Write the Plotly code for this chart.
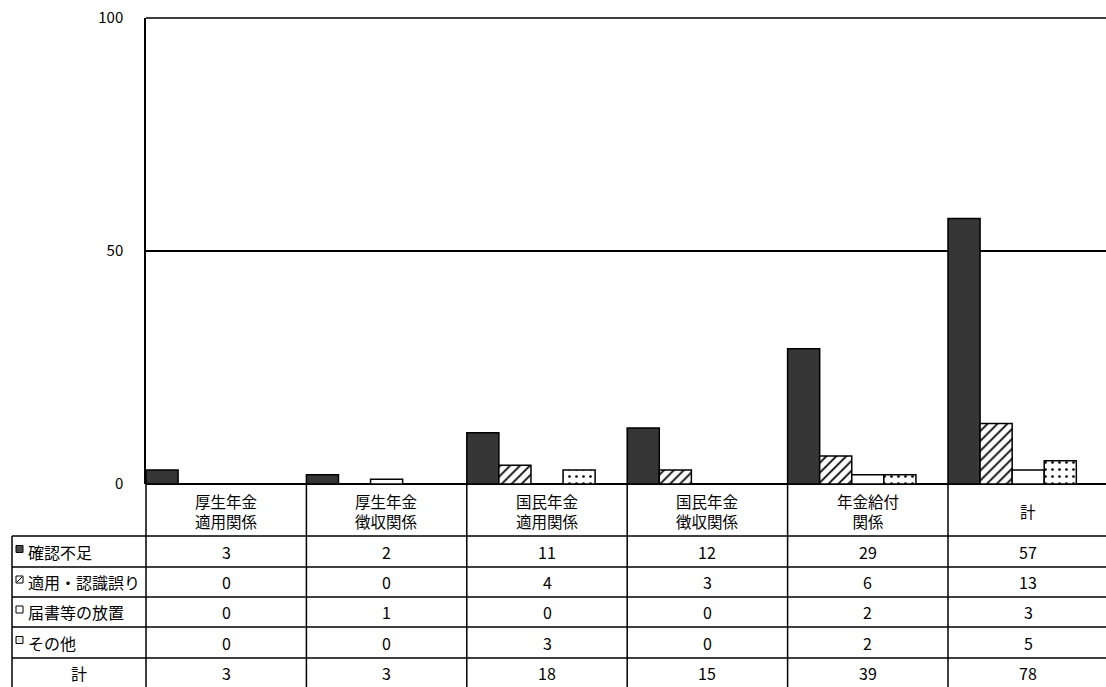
import plotly.graph_objects as go

# ---- data ----
categories = ["厚生年金<br>適用関係", "厚生年金<br>徴収関係", "国民年金<br>適用関係",
              "国民年金<br>徴収関係", "年金給付<br>関係", "計"]
series_names = ["確認不足", "適用・認識誤り", "届書等の放置", "その他"]
kakunin_fusoku = [3, 2, 11, 12, 29, 57]
tekiyo_ninshiki = [0, 0, 4, 3, 6, 13]
todokesho_hochi = [0, 1, 0, 0, 2, 3]
sonota = [0, 0, 3, 0, 2, 5]
total_row_label = "計"
totals = [3, 3, 18, 15, 39, 78]
y_ticks = [0, 50, 100]

series_values = [kakunin_fusoku, tekiyo_ninshiki, todokesho_hochi, sonota]

FONT = "Noto Sans CJK JP"
W, H = 1106, 687
L, T, B = 146, 18, 203
PW, PH = W - L, H - T - B
CAT_PX = 160.4


def pxx(p):
    return (p - L) / PW


def pxy(p):
    return (H - B - p) / PH


styles = [
    dict(color="#363636", pattern=None),
    dict(color="white", pattern=dict(shape="/", fgcolor="black", bgcolor="white", size=7,
                                     solidity=0.25, fgopacity=1)),
    dict(color="white", pattern=None),
    dict(color="white", pattern=dict(shape=".", fgcolor="black", bgcolor="white", size=7,
                                     solidity=0.12, fgopacity=1)),
]

fig = go.Figure()
xs = list(range(len(categories)))
for name, vals, st in zip(series_names, series_values, styles):
    marker = dict(color=st["color"], line=dict(color="black", width=1.5))
    if st["pattern"]:
        marker["pattern"] = st["pattern"]
    fig.add_trace(go.Bar(x=xs, y=vals, name=name, marker=marker, hoverinfo="skip"))

x0 = -0.4
x1 = x0 + PW / CAT_PX

shapes = []
annotations = []

# table geometry (pixels)
header_bottom = 536
row_lines = [567, 597, 627, 658, 688]
row_tops = [header_bottom] + row_lines[:-1]
row_centers = [(a + b) / 2 for a, b in zip(row_tops, row_lines)]
table_left = 12

# horizontal table lines
for yp in [header_bottom] + row_lines:
    shapes.append(dict(type="line", xref="paper", yref="paper", x0=pxx(table_left), x1=1.01,
                       y0=pxy(yp), y1=pxy(yp), line=dict(color="black", width=1.3)))
# left border of table
shapes.append(dict(type="line", xref="paper", yref="paper", x0=pxx(table_left), x1=pxx(table_left),
                   y0=pxy(header_bottom), y1=pxy(H + 2), line=dict(color="black", width=1.5)))
# axis line continuation
shapes.append(dict(type="line", xref="paper", yref="paper", x0=0, x1=0,
                   y0=0, y1=pxy(H + 2), line=dict(color="black", width=1.5)))
# category boundaries
for i in range(1, len(categories)):
    shapes.append(dict(type="line", xref="x", yref="paper", x0=i + x0, x1=i + x0,
                       y0=0, y1=pxy(H + 2), line=dict(color="black", width=1.5)))

# header labels
for i, c in enumerate(categories):
    annotations.append(dict(x=i + 0.1, xref="x", y=pxy((H - B + header_bottom) / 2 + 1), yref="paper",
                            text=c, showarrow=False, font=dict(family=FONT, size=15.5, color="black"),
                            xanchor="center", yanchor="middle", align="center"))

# row labels + icons
icon_fill = ["#4a4a4a", "white", "white", "#e8e8e8"]
for r, (name, vals) in enumerate(zip(series_names, series_values)):
    yc = row_centers[r]
    annotations.append(dict(x=pxx(26), xref="paper", y=pxy(yc), yref="paper", text=name,
                            showarrow=False, xanchor="left", yanchor="middle",
                            font=dict(family=FONT, size=16, color="black")))
    shapes.append(dict(type="rect", xref="paper", yref="paper", x0=pxx(16), x1=pxx(23),
                       y0=pxy(yc + 1), y1=pxy(yc - 6), fillcolor=icon_fill[r],
                       line=dict(color="black", width=1)))
    if r == 1:
        shapes.append(dict(type="line", xref="paper", yref="paper", x0=pxx(17), x1=pxx(22),
                           y0=pxy(yc), y1=pxy(yc - 5), line=dict(color="black", width=1)))
    for i, v in enumerate(vals):
        annotations.append(dict(x=i + 0.1, xref="x", y=pxy(yc), yref="paper", text=str(v),
                                showarrow=False, xanchor="center", yanchor="middle",
                                font=dict(family=FONT, size=16, color="black")))

# total row
yc = row_centers[4]
annotations.append(dict(x=pxx(79), xref="paper", y=pxy(yc), yref="paper", text=total_row_label,
                        showarrow=False, xanchor="center", yanchor="middle",
                        font=dict(family=FONT, size=16, color="black")))
for i, v in enumerate(totals):
    annotations.append(dict(x=i + 0.1, xref="x", y=pxy(yc), yref="paper", text=str(v),
                            showarrow=False, xanchor="center", yanchor="middle",
                            font=dict(family=FONT, size=16, color="black")))

# top border line
shapes.append(dict(type="line", xref="paper", yref="paper", x0=0, x1=1.01, y0=1, y1=1,
                   line=dict(color="black", width=1.5)))

fig.update_layout(
    width=W, height=H,
    margin=dict(l=L, r=0, t=T, b=B),
    paper_bgcolor="white", plot_bgcolor="white",
    barmode="group", bargap=0.2, bargroupgap=0,
    showlegend=False,
    font=dict(family=FONT, size=15, color="black"),
    xaxis=dict(range=[x0, x1], showticklabels=False, showgrid=False, zeroline=False,
               showline=False, ticks=""),
    yaxis=dict(range=[0, 100], tickvals=y_ticks, ticktext=[str(t) for t in y_ticks],
               showgrid=True, gridcolor="black", gridwidth=1.5, zeroline=True,
               zerolinecolor="black", zerolinewidth=1.5, showline=True, linecolor="black",
               linewidth=1.5, ticks="", ticklabelstandoff=18,
               tickfont=dict(family=FONT, size=15, color="black")),
    shapes=shapes,
    annotations=annotations,
)

fig.write_html("out.html", config={"displayModeBar": False},
               post_script="document.body.style.margin='0';document.body.style.overflow='hidden';")
